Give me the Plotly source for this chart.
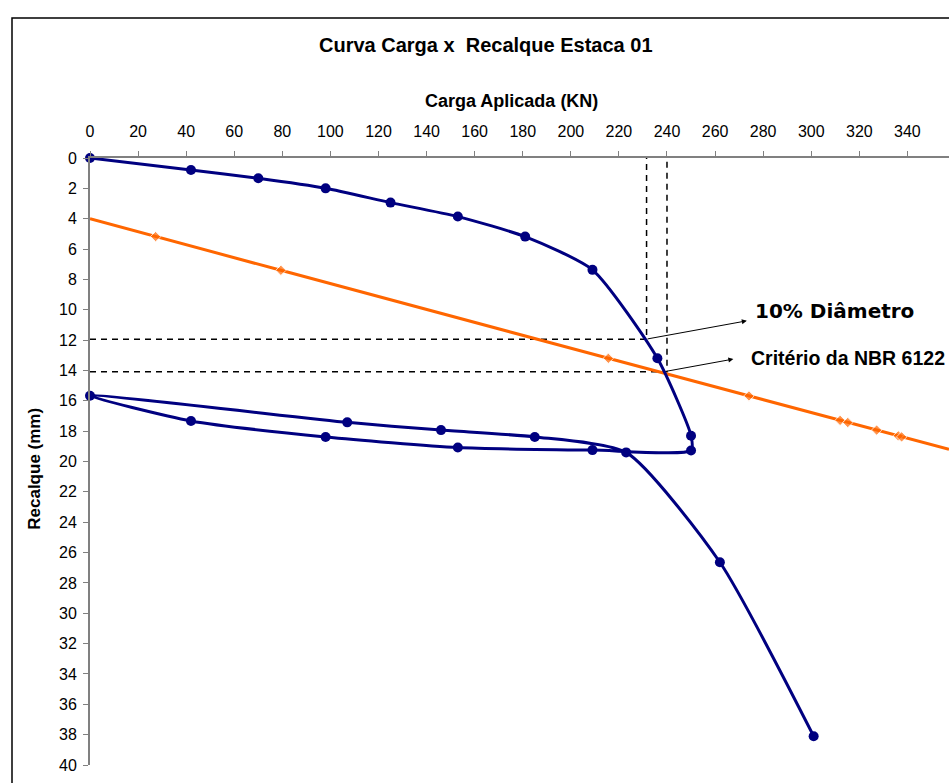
import plotly.graph_objects as go

# ---------------- data ----------------
# Curva carga x recalque (load in kN, settlement in mm), in test order:
# loading, hold, unloading, reloading
carga = [0, 42, 70, 98, 125, 153, 181, 209, 236, 250, 250,
         209, 153, 98, 42, 0,
         107, 146, 185, 223, 262, 301]
recalque = [0, 0.79, 1.34, 2.0, 2.94, 3.86, 5.18, 7.37, 13.2, 18.3, 19.27,
            19.25, 19.08, 18.38, 17.33, 15.67,
            17.42, 17.93, 18.38, 19.4, 26.64, 38.1]

# NBR 6122 criterion line (elastic shortening + D/30)
nbr_carga = [0, 27.3, 79.4, 215.6, 274.1, 312.0, 315.2, 327.2, 336.2, 337.6, 357.3]
nbr_recalque = [4.0, 5.18, 7.4, 13.2, 15.68, 17.29, 17.43, 17.93, 18.31, 18.38, 19.2]
nbr_marker = [0, 8, 8, 8, 8, 8, 8, 8, 8, 8, 0]

# guide lines (dashed)
guia_10pct_x = [0, 231.5, 231.5]
guia_10pct_y = [11.95, 11.95, 0]
guia_nbr_x = [0, 240, 240]
guia_nbr_y = [14.08, 14.08, 0]

x_ticks = list(range(0, 341, 20))
y_ticks = list(range(0, 41, 2))

titulo = "Curva Carga x  Recalque Estaca 01"
titulo_x = "Carga Aplicada (KN)"
titulo_y = "Recalque (mm)"
rotulo_10 = "10% Diâmetro"
rotulo_nbr = "Critério da NBR 6122"

# ---------------- layout helpers ----------------
W, H = 949, 783
L, R, T, B = 90, 0, 158, 17.5
PW, PH = W - L - R, H - T - B


def px(xpix):
    return (xpix - L) / PW


def py(ypix):
    return (H - B - ypix) / PH


NAVY = "#000080"
ORANGE = "#FF6600"
FONT = "Liberation Sans, Arial, sans-serif"

fig = go.Figure()

# dashed guides
for gx, gy in [(guia_10pct_x, guia_10pct_y), (guia_nbr_x, guia_nbr_y)]:
    fig.add_trace(go.Scatter(x=gx, y=gy, mode="lines",
                             line=dict(color="black", width=1.5, dash="6px,5px"),
                             hoverinfo="skip", showlegend=False))

# NBR line
fig.add_trace(go.Scatter(x=nbr_carga, y=nbr_recalque, mode="lines+markers",
                         line=dict(color=ORANGE, width=3),
                         marker=dict(symbol="diamond", size=nbr_marker, color=ORANGE),
                         showlegend=False))

# load-settlement curve
fig.add_trace(go.Scatter(x=carga, y=recalque, mode="lines+markers",
                         line=dict(color=NAVY, width=3, shape="spline", smoothing=0.6),
                         marker=dict(symbol="circle", size=10, color=NAVY),
                         cliponaxis=False, showlegend=False))

axis_common = dict(showgrid=False, zeroline=False, showline=True,
                   linecolor="#808080", linewidth=2,
                   ticks="outside", ticklen=5, tickcolor="#808080", tickwidth=1,
                   tickfont=dict(family=FONT, size=16, color="black"))

fig.update_xaxes(range=[0, 357.3], side="top", tickmode="array",
                 tickvals=x_ticks, ticktext=[str(v) for v in x_ticks],
                 ticklabelstandoff=8, **axis_common)
fig.update_yaxes(range=[40, 0], tickmode="array", tickvals=y_ticks,
                 ticktext=[str(v) for v in y_ticks], ticklabelstandoff=3,
                 **axis_common)

annotations = [
    dict(text=f"<b>{titulo}</b>", x=px(486), y=py(45), xref="paper", yref="paper",
         showarrow=False, font=dict(family=FONT, size=20, color="black"),
         xanchor="center", yanchor="middle"),
    dict(text=f"<b>{titulo_x}</b>", x=px(511), y=py(101), xref="paper", yref="paper",
         showarrow=False, font=dict(family=FONT, size=18, color="black"),
         xanchor="center", yanchor="middle"),
    dict(text=f"<b>{titulo_y}</b>", x=px(35), y=py(469), xref="paper", yref="paper",
         showarrow=False, textangle=-90, font=dict(family=FONT, size=17, color="black"),
         xanchor="center", yanchor="middle"),
    dict(text=f"<b>{rotulo_10}</b>", x=275.8, y=10.05, xref="x", yref="y",
         showarrow=False, font=dict(family="DejaVu Sans", size=20, color="black"),
         xanchor="left", yanchor="middle"),
    dict(text=f"<b>{rotulo_nbr}</b>", x=274.0, y=13.2, xref="x", yref="y",
         showarrow=False, font=dict(family=FONT, size=19.5, color="black"),
         xanchor="left", yanchor="middle"),
    # arrows
    dict(x=273.2, y=10.73, ax=231.3, ay=11.94, xref="x", yref="y", axref="x", ayref="y",
         showarrow=True, arrowhead=2, arrowsize=1, arrowwidth=1, arrowcolor="black", text=""),
    dict(x=267.6, y=13.25, ax=239.2, ay=14.07, xref="x", yref="y", axref="x", ayref="y",
         showarrow=True, arrowhead=2, arrowsize=1, arrowwidth=1, arrowcolor="black", text=""),
]

fig.update_layout(
    width=W, height=H,
    margin=dict(l=L, r=R, t=T, b=B, pad=0),
    paper_bgcolor="white", plot_bgcolor="white",
    annotations=annotations,
    shapes=[dict(type="rect", xref="paper", yref="paper",
                 x0=px(12), x1=px(1000), y0=py(820), y1=py(18),
                 line=dict(color="black", width=1.5), fillcolor="rgba(0,0,0,0)",
                 layer="below")],
    font=dict(family=FONT),
)

fig.write_html("out.html", config={"displayModeBar": False},
               post_script="document.body.style.margin='0';document.body.style.overflow='hidden';")
